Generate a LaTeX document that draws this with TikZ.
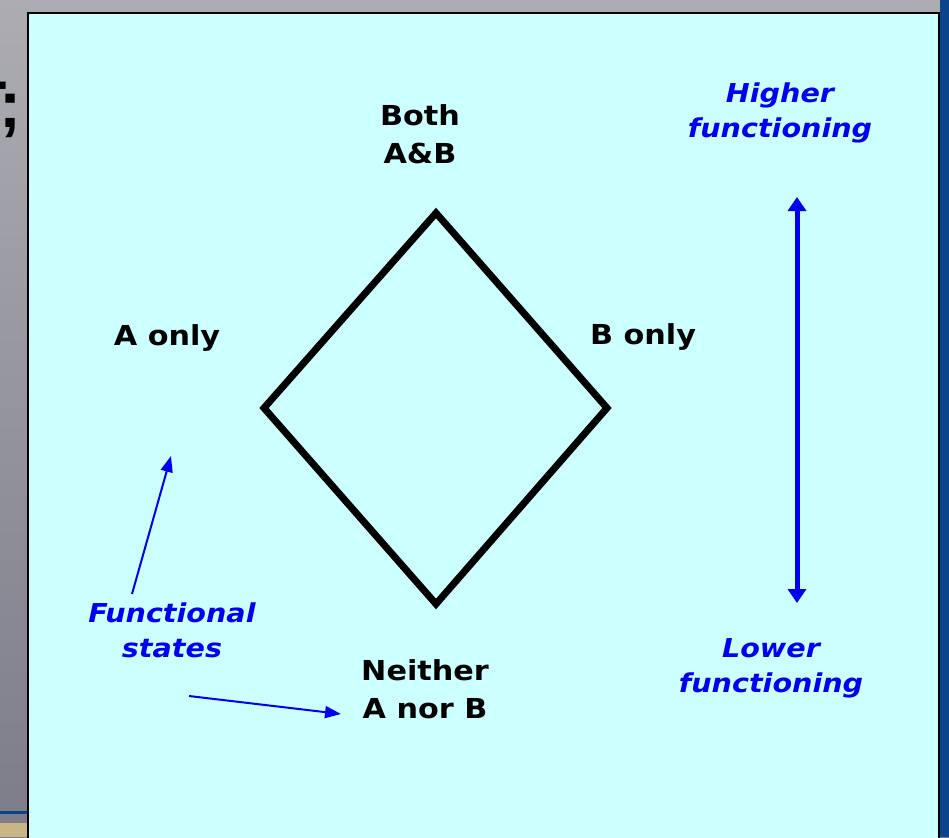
\documentclass[tikz,border=0pt]{standalone}
\usepackage{fontspec}
\setmainfont{Liberation Sans}
\newfontfamily\lblfont[FakeStretch=1.1]{DejaVu Sans}
\usetikzlibrary{arrows.meta}
\definecolor{panel}{RGB}{204,255,255}
\definecolor{ablue}{RGB}{0,0,240}
\definecolor{sideblue}{RGB}{12,68,140}
\definecolor{tan}{RGB}{200,182,132}
\tikzset{
  lbl/.style={font=\lblfont\bfseries\fontsize{27.5}{38}\selectfont, align=center, text=black, inner sep=0pt},
  blbl/.style={font=\lblfont\bfseries\itshape\fontsize{26}{35}\selectfont, align=center, text=ablue, inner sep=0pt},
  thinarrow/.style={draw=ablue, line width=2pt, -{Triangle[length=16pt,width=12pt]}},
  thickarrow/.style={draw=ablue, line width=5pt, {Triangle[length=14pt,width=18pt]}-{Triangle[length=14pt,width=18pt]}},
  diam/.style={draw=black, line width=7pt, line join=miter}
}
\begin{document}
\begin{tikzpicture}[x=1pt,y=1pt]
\useasboundingbox (0,0) rectangle (949,-837);
% background
\shade[top color={rgb,255:red,172;green,172;blue,178}, bottom color={rgb,255:red,124;green,124;blue,138}] (0,0) rectangle (949,-837);
\fill[sideblue] (0,-811) rectangle (30,-814);
\fill[tan] (0,-823) rectangle (30,-837);
\node[font=\bfseries\fontsize{66}{70}\selectfont, anchor=base east, inner sep=0pt] (frag) at (22,-128) {T;};
\fill[sideblue] (940,0) rectangle (949,-837);
% panel
\draw[fill=panel, draw=black, line width=2pt] (28,-13) rectangle (939,-850);
% diamond
\coordinate (T) at (436,-213);
\coordinate (R) at (607,-408);
\coordinate (B) at (436,-604);
\coordinate (L) at (264,-408);
\draw[diam] (T) -- (R) -- (B) -- (L) -- cycle;
% labels
\node[lbl] (both) at (420,-134) {Both\\A\&B};
\node[lbl] (aonly) at (167,-338) {A only};
\node[lbl] (bonly) at (643,-337) {B only};
\node[lbl] (neither) at (425,-689) {Neither\\A nor B};
\node[blbl] (higher) at (780,-113) {Higher\\functioning};
\node[blbl] (lower) at (771,-668) {Lower\\functioning};
\node[blbl] (func) at (172,-630) {Functional\\states};
% arrows
\coordinate (a1s) at (132,-594);
\coordinate (a1e) at (171,-456);
\draw[thinarrow] (a1s) -- (a1e);
\coordinate (a2s) at (189,-696);
\coordinate (a2e) at (341,-714);
\draw[thinarrow] (a2s) -- (a2e);
\coordinate (vt) at (797,-197);
\coordinate (vb) at (797,-603);
\draw[thickarrow] (vt) -- (vb);
\end{tikzpicture}
\end{document}
